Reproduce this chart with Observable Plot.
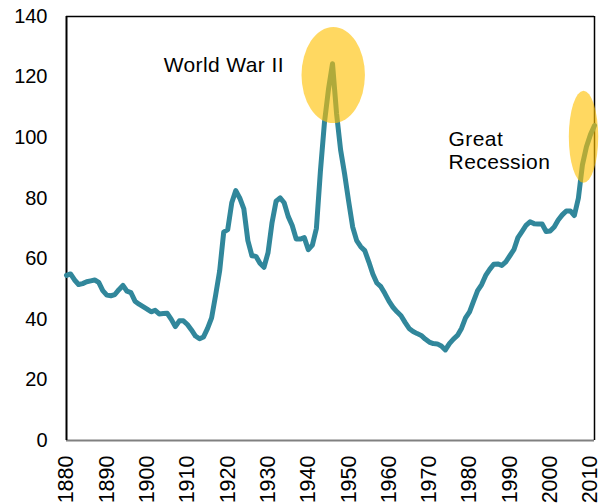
<!DOCTYPE html>
<html>
<head>
<meta charset="utf-8">
<script src="https://cdn.jsdelivr.net/npm/d3@7"></script>
<script src="https://cdn.jsdelivr.net/npm/@observablehq/plot@0.6"></script>
<style>
  html, body { margin: 0; padding: 0; background: #fff; }
</style>
</head>
<body>
<div id="chart"></div>
<script>
// ---- Data ----
const firstYear = 1880;
const lastYear = 2011;
const debtRatio = [
  54.5, 55.0, 53.0, 51.5, 51.8, 52.4, 52.7, 53.0, 52.2, 49.5,   // 1880-1889
  48.0, 47.8, 48.2, 49.8, 51.2, 49.3, 48.8, 46.0, 45.0, 44.2,   // 1890-1899
  43.4, 42.5, 43.0, 41.8, 41.9, 42.0, 40.0, 37.6, 39.5, 39.5,   // 1900-1909
  38.3, 36.5, 34.5, 33.6, 34.2, 37.0, 40.5, 48.0, 56.0, 68.8,   // 1910-1919
  69.6, 78.5, 82.5, 80.0, 76.5, 66.0, 61.0, 60.8, 58.5, 57.2,   // 1920-1929
  62.0, 72.0, 79.0, 80.1, 78.5, 74.0, 71.0, 66.5, 66.5, 67.0,   // 1930-1939
  63.0, 64.5, 70.0, 89.0, 105.0, 116.0, 124.4, 108.0, 96.0, 88.0, // 1940-1949
  79.0, 70.5, 66.0, 64.0, 62.7, 59.0, 55.0, 52.0, 50.8, 48.5,   // 1950-1959
  46.0, 44.0, 42.5, 41.2, 39.0, 37.0, 36.0, 35.3, 34.7, 33.5,   // 1960-1969
  32.5, 32.0, 31.9, 31.2, 29.9, 32.0, 33.5, 34.7, 37.0, 40.5,   // 1970-1979
  42.5, 46.0, 49.5, 51.5, 54.5, 56.5, 58.2, 58.3, 57.8, 59.0,   // 1980-1989
  61.0, 63.0, 67.0, 69.0, 71.0, 72.2, 71.6, 71.5, 71.5, 69.0,   // 1990-1999
  69.2, 70.5, 72.8, 74.5, 75.8, 75.8, 74.3, 80.0, 91.0, 97.0,   // 2000-2009
  101.0, 104.0                                                  // 2010-2011
];
const xTicks = [1880, 1890, 1900, 1910, 1920, 1930, 1940, 1950, 1960, 1970, 1980, 1990, 2000, 2010];
const yTicks = [0, 20, 40, 60, 80, 100, 120, 140];

// annotations
const labelTexts = ["World War II", "Great\nRecession"];
const labelYears = [1904.1, 1974.8];
const labelValues = [124.1, 95.8];
const highlightYears = [1946.3, 2008.4];
const highlightValues = [120.5, 100.1];

const series = debtRatio.map((v, i) => ({year: firstYear + i, value: v}));
const labels = labelTexts.map((t, i) => ({text: t, year: labelYears[i], value: labelValues[i]}));
const highlights = highlightYears.map((y, i) => ({year: y, value: highlightValues[i]}));

const lineColor = "#31879b";
const font = "'Liberation Sans', Arial, Helvetica, sans-serif";

const chart = Plot.plot({
  width: 602,
  height: 504,
  marginLeft: 66,
  marginRight: 8,
  marginTop: 16,
  marginBottom: 64,
  style: {fontFamily: font, fontSize: "20px", background: "#fff", color: "#000", overflow: "visible"},
  x: {domain: [firstYear, lastYear], ticks: xTicks, tickFormat: "d", tickRotate: -90, tickSize: 0, tickPadding: 15, label: null},
  y: {domain: [0, 140], ticks: yTicks, tickSize: 0, tickPadding: 19, label: null},
  marks: [
    Plot.ruleY([0], {stroke: "#808080", strokeWidth: 2}),
    Plot.ruleY([140], {stroke: "#000", strokeWidth: 1.5}),
    Plot.ruleX([firstYear], {stroke: "#000", strokeWidth: 2}),
    Plot.ruleX([lastYear], {stroke: "#000", strokeWidth: 1.5}),
    Plot.line(series, {x: "year", y: "value", stroke: lineColor, strokeWidth: 5, strokeLinejoin: "round", strokeLinecap: "round"}),
    Plot.text(labels, {x: "year", y: "value", text: "text", textAnchor: "start", fontSize: 21, lineHeight: 1.1, fill: "#000"})
  ]
});

// slightly larger x tick labels, like the reference
d3.select(chart).selectAll('g[aria-label="x-axis tick label"]').attr("font-size", 21.5);
d3.select(chart).selectAll('g[aria-label="text"] text').style("letter-spacing", "0.4px");

// highlight ellipses positioned with the plot's own scales
const sx = chart.scale("x"), sy = chart.scale("y");
const radii = [[31.7, 48], [14.7, 46]];
const g = d3.select(chart).append("g").attr("class", "highlights");
highlights.forEach((h, i) => {
  g.append("ellipse")
    .attr("cx", sx.apply(h.year))
    .attr("cy", sy.apply(h.value))
    .attr("rx", radii[i][0])
    .attr("ry", radii[i][1])
    .attr("fill", "#ffc000")
    .attr("fill-opacity", 0.62);
});

document.getElementById("chart").append(chart);
</script>
</body>
</html>
